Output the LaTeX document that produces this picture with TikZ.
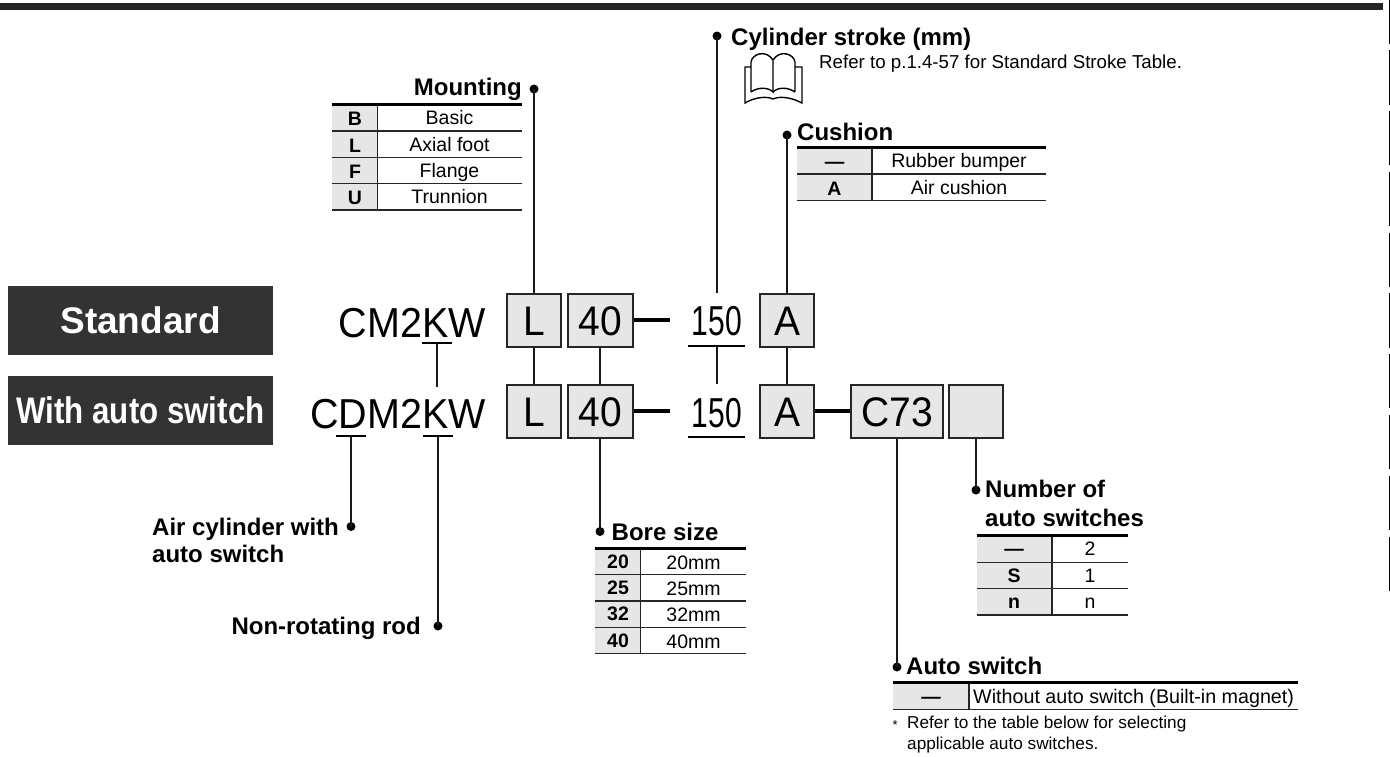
\documentclass[tikz,border=0pt]{standalone}
\usepackage{fontspec}
\setmainfont{Liberation Sans}
\usepackage{xcolor}
\usetikzlibrary{positioning}
\definecolor{panelgray}{HTML}{E6E6E6}
\definecolor{darkband}{HTML}{333333}

\newcommand{\tallcode}[2][1]{\scalebox{#1}[1.06]{#2}}
\newcommand{\optiontable}[6]{% x-left, x-divider, x-right, y-top, row height, rows
    \fill[panelgray] (#1,#4) rectangle (#2,#4+#5*#6);
    \draw[tablerule] (#2,#4) -- (#2,#4+#5*#6);
    \foreach \rowno in {1,...,#6} {\draw[tablerule] (#1,#4+#5*\rowno) -- (#3,#4+#5*\rowno);}
    \draw[tablehead] (#1,#4) -- (#3,#4);
}

\begin{document}
\begin{tikzpicture}[
        x=1pt, y=-1pt,
        codebox/.style={rectangle, draw=black!85, line width=2pt, fill=panelgray, inner sep=0pt, text height=31pt, text depth=0pt, font=\fontsize{39}{39}\selectfont, text=black},
        codetext/.style={inner sep=0pt, anchor=base east, font=\fontsize{39.5}{39.5}\selectfont},
        band/.style={rectangle, fill=darkband, inner sep=0pt, text=white, font=\fontsize{37}{37}\selectfont\bfseries},
        heading/.style={inner sep=0pt, anchor=base west, font=\fontsize{24}{28.4}\selectfont\bfseries, align=left},
        cell/.style={inner sep=0pt, font=\fontsize{19.5}{20}\selectfont},
        key/.style={inner sep=0pt, font=\fontsize{19.5}{20}\selectfont\bfseries},
        note/.style={inner sep=0pt, anchor=base west, font=\fontsize{18}{21}\selectfont, align=left},
        tablerule/.style={line width=1.2pt, draw=black!85},
        tablehead/.style={line width=2.6pt, draw=black},
        leader/.style={line width=2pt, draw=black!90},
        tick/.style={line width=1.8pt, draw=black},
        joint/.style={line width=4.5pt, draw=black},
        spot/.style={circle, fill=black, inner sep=0pt, minimum size=9pt}
    ]
    \useasboundingbox (0,0) rectangle (1390,756);

    % Page furniture
    \fill[black!85] (0,3) rectangle (1383,10);
    \foreach \segtop/\segbot in {0/44,50/105,111/165,172/226,233/287,293/348,354/408,415/469,476/530,537/591}
        {\draw[line width=1.2pt] (1389.3,\segtop) -- (1389.3,\segbot);}

    % The bands
    \node (standard) [band, minimum width=265pt, minimum height=69pt] at (140.5,320.5) {Standard};
    \node (withswitch) [band, minimum width=265pt, minimum height=69pt] at (140.5,410.5) {\scalebox{.845}[1]{With auto switch}};

    % The two codes
    \node (codeone) [codetext] at (486,337) {\tallcode{CM2KW}};
    \node (codetwo) [codetext] at (486,428) {\tallcode{CDM2KW}};

    % The boxes
    \node (mountone) [codebox, minimum width=54pt, minimum height=53pt] at (534,320) {\tallcode{L}};
    \node (boreone) [codebox, minimum width=65pt, minimum height=53pt] at (600,320) {\tallcode{40}};
    \node (cushone) [codebox, minimum width=54pt, minimum height=53pt] at (787,320) {\tallcode{A}};
    \node (mounttwo) [codebox, minimum width=54pt, minimum height=53pt] at (534,411) {\tallcode{L}};
    \node (boretwo) [codebox, minimum width=65pt, minimum height=53pt] at (600,411) {\tallcode{40}};
    \node (cushtwo) [codebox, minimum width=54pt, minimum height=53pt] at (787,411) {\tallcode{A}};
    \node (switchtwo) [codebox, minimum width=92pt, minimum height=53pt] at (897,411) {\tallcode{C73}};
    \node (counttwo) [codebox, minimum width=54pt, minimum height=53pt] at (976,411) {};

    % The strokes
    \node (strokeone) [inner sep=0pt, anchor=base, font=\fontsize{39.5}{39.5}\selectfont] at (717,335) {\tallcode[.76]{150}};
    \node (stroketwo) [inner sep=0pt, anchor=base, font=\fontsize{39.5}{39.5}\selectfont] at (717,427) {\tallcode[.76]{150}};

    % Free ends and underlines
    \coordinate (jointone) at (670,320);
    \coordinate (jointtwo) at (670,411);
    \draw [joint] (boreone.east) -- (jointone);
    \draw [joint] (boretwo.east) -- (jointtwo);
    \draw [joint] (cushtwo.east) -- (switchtwo.west);
    \draw [tick] (688,346.3) -- (745.4,346.3);
    \draw [tick] (688,436.7) -- (745.4,436.7);
    \draw [tick] (421.7,343.3) -- (451.7,343.3);
    \draw [tick] (423,436) -- (452.7,436);
    \draw [tick] (336,436) -- (365.7,436);

    % The leaders
    \node (dotmount) [spot] at (534,89) {};
    \node (dotstroke) [spot] at (717,36) {};
    \node (dotcush) [spot] at (787,135) {};
    \node (dotair) [spot] at (351,526.5) {};
    \node (dotrod) [spot] at (438,626) {};
    \node (dotbore) [spot] at (600,531.5) {};
    \node (dotswitch) [spot] at (897,667) {};
    \node (dotcount) [spot] at (976,490) {};
    \coordinate (stroketop) at (717,293);
    \coordinate (strokegapa) at (717,346.3);
    \coordinate (strokegapb) at (717,384);
    \coordinate (codegapa) at (436.7,343.3);
    \coordinate (codegapb) at (436.7,386.5);
    \coordinate (rodtop) at (438,436);
    \coordinate (airtop) at (351,436);
    \draw [leader] (dotmount.center) -- (mountone.north);
    \draw [leader] (dotstroke.center) -- (stroketop);
    \draw [leader] (dotcush.center) -- (cushone.north);
    \draw [leader] (mountone.south) -- (mounttwo.north);
    \draw [leader] (boreone.south) -- (boretwo.north);
    \draw [leader] (cushone.south) -- (cushtwo.north);
    \draw [leader] (strokegapa) -- (strokegapb);
    \draw [leader] (codegapa) -- (codegapb);
    \draw [leader] (airtop) -- (dotair.center);
    \draw [leader] (rodtop) -- (dotrod.center);
    \draw [leader] (boretwo.south) -- (dotbore.center);
    \draw [leader] (switchtwo.south) -- (dotswitch.center);
    \draw [leader] (counttwo.south) -- (dotcount.center);

    % Mounting
    \node (mounting) [heading, anchor=base east] at (522,95) {Mounting};
    \optiontable{332}{377.7}{522}{104.7}{26.3}{4}
    \foreach \rowno/\keytext/\celltext in {0/B/Basic,1/L/Axial foot,2/F/Flange,3/U/Trunnion} {
        \node (mountkey\rowno) [key, anchor=base] at (355,104.7+26.3*\rowno+21) {\keytext};
        \node (mountcell\rowno) [cell, anchor=base] at (449.5,104.7+26.3*\rowno+20) {\celltext};
    }

    % Cylinder stroke
    \node (strokehead) [heading] at (731,45) {Cylinder stroke (mm)};
    \node (strokenote) [note, font=\fontsize{18.7}{20}\selectfont] at (819,68) {Refer to p.1.4-57 for Standard Stroke Table.};
    \draw [line width=1.4pt] (751,92) -- (751,62) .. controls (752,54) and (766,49) .. (773,60) -- (773,92)
        .. controls (768,87) and (758,87) .. (751,92);
    \draw [line width=1.4pt] (795,92) -- (795,62) .. controls (794,54) and (780,49) .. (773,60)
        (773,92) .. controls (778,87) and (788,87) .. (795,92);
    \draw [line width=1.4pt] (751,67) -- (745,67) -- (745,103) .. controls (755,97) and (767,96) .. (773,99)
        .. controls (779,96) and (791,97) .. (802,103) -- (802,67) -- (795,67);

    % Cushion
    \node (cushhead) [heading] at (797,140) {Cushion};
    \optiontable{797}{872}{1046}{147.3}{26.7}{2}
    \foreach \rowno/\keytext/\celltext in {0/---/Rubber bumper,1/A/Air cushion} {
        \node (cushkey\rowno) [key, anchor=base] at (834.5,147.3+26.7*\rowno+21) {\keytext};
        \node (cushcell\rowno) [cell, anchor=base] at (959,147.3+26.7*\rowno+20) {\celltext};
    }

    % Left labels
    \node (airhead) [heading, font=\fontsize{24}{27}\selectfont\bfseries] at (152,562) {Air cylinder with\\auto switch};
    \node (rodhead) [heading, anchor=base east] at (421,634) {Non-rotating rod};

    % Bore size
    \node (borehead) [heading] at (611.5,540) {Bore size};
    \optiontable{595.3}{640.7}{746}{548.3}{26.3}{4}
    \foreach \rowno/\keytext in {0/20,1/25,2/32,3/40} {
        \node (borekey\rowno) [key, anchor=base] at (618,548.3+26.3*\rowno+20) {\keytext};
        \node (borecell\rowno) [cell, anchor=base] at (693.5,548.3+26.3*\rowno+21) {\keytext mm};
    }

    % Number of auto switches
    \node (counthead) [heading] at (985,526) {Number of\\auto switches};
    \optiontable{976.7}{1052}{1127.7}{535.7}{26.4}{3}
    \foreach \rowno/\keytext/\celltext in {0/---/2,1/S/1,2/n/n} {
        \node (countkey\rowno) [key, anchor=base] at (1014,535.7+26.4*\rowno+20) {\keytext};
        \node (countcell\rowno) [cell, anchor=base] at (1090,535.7+26.4*\rowno+20) {\celltext};
    }

    % Auto switch
    \node (switchhead) [heading] at (906,674) {Auto switch};
    \optiontable{893.3}{969}{1298}{682.7}{26.4}{1}
    \node (switchkey) [key, anchor=base] at (931,703) {---};
    \node (switchcell) [cell, anchor=base west, font=\fontsize{19.7}{20}\selectfont] at (973,703) {Without auto switch (Built-in magnet)};
    \node (switchnote) [note, font=\fontsize{13}{13}\selectfont] at (892.5,729) {*};
    \node (switchtext) [note, font=\fontsize{17.2}{21}\selectfont] at (907,749) {Refer to the table below for selecting\\applicable auto switches.};

\end{tikzpicture}
\end{document}
